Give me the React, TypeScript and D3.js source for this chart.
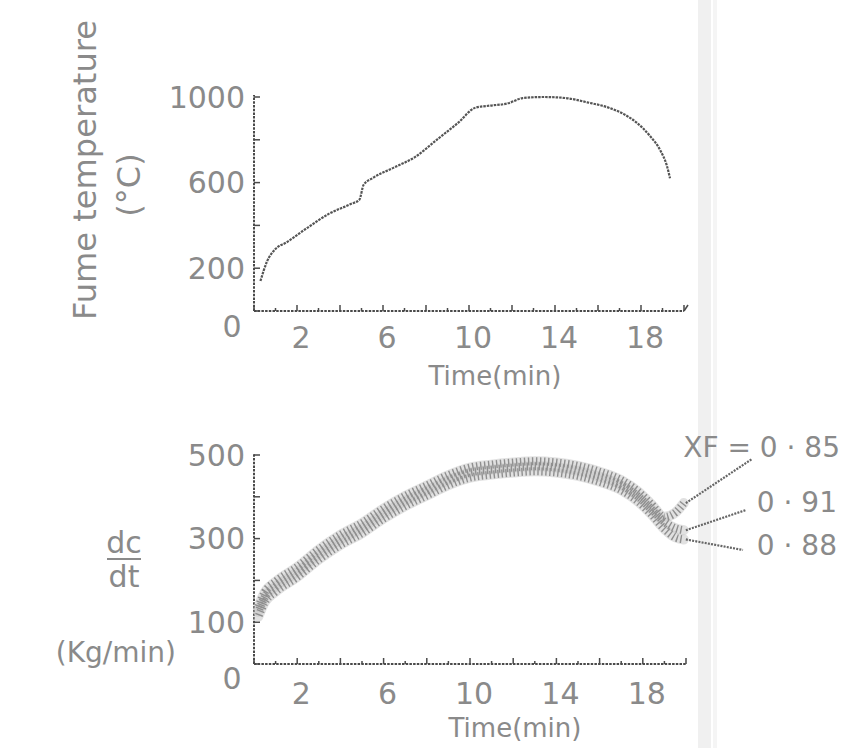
import React from "react";
import * as d3 from "d3";

// ---- data ----
const topTimes = [0.3, 0.6, 1.0, 1.5, 2.5, 3.5, 4.5, 4.9, 5.1, 5.5, 6.5, 7.5, 8.5, 9.5, 10.3, 11.0, 11.8, 12.5, 13.5, 14.5, 15.5, 16.5, 17.2, 17.8, 18.4, 18.9, 19.2, 19.35];
const fumeTemp = [140, 230, 290, 320, 390, 455, 500, 520, 590, 620, 670, 720, 800, 880, 950, 960, 970, 995, 1000, 995, 975, 950, 920, 880, 820, 750, 680, 620];

const bandTimes = [0.2, 0.5, 1, 2, 3, 4, 5, 6, 7, 8, 9, 10, 11, 12, 13, 14, 15, 16, 17, 17.8, 18.4, 19, 19.5, 19.9];
const dcXF085 = [137, 172, 197, 232, 274, 309, 337, 372, 402, 427, 452, 470, 477, 482, 485, 482, 474, 460, 440, 412, 382, 352, 362, 385];
const dcXF091 = [125, 160, 185, 220, 262, 297, 325, 360, 390, 415, 440, 458, 465, 470, 473, 470, 462, 448, 428, 400, 370, 340, 325, 320];
const dcXF088 = [113, 148, 173, 208, 250, 285, 313, 348, 378, 403, 428, 446, 453, 458, 461, 458, 450, 436, 416, 388, 358, 323, 303, 298];

const topYTickLabels = [200, 600, 1000];
const bottomYTickLabels = [100, 300, 500];
const xTickLabels = [2, 6, 10, 14, 18];
const xfLabels = ["XF = 0 · 85", "0 · 91", "0 · 88"];

const INK = "#4a4a4a";
const TEXT = "#8a8a8a";
const FONT = "'DejaVu Sans', sans-serif";

export default function App() {
  const xTop = d3.scaleLinear().domain([0, 20]).range([254, 684]);
  const yTop = d3.scaleLinear().domain([0, 1000]).range([311, 97]);
  const xBot = d3.scaleLinear().domain([0, 20]).range([254, 686]);
  const yBot = d3.scaleLinear().domain([0, 500]).range([664, 455]);

  const topLine = d3
    .line<number>()
    .x((_, i) => xTop(topTimes[i]))
    .y((d) => yTop(d))
    .curve(d3.curveMonotoneX);

  const botLine = d3
    .line<number>()
    .x((_, i) => xBot(bandTimes[i]))
    .y((d) => yBot(d))
    .curve(d3.curveMonotoneX);

  const series = [dcXF085, dcXF091, dcXF088];
  const labelAnchors = [
    { tx: 840, ty: 447, lx: 752, ly: 459 },
    { tx: 837, ty: 502, lx: 746, ly: 510 },
    { tx: 837, ty: 545, lx: 743, ly: 550 },
  ];

  const xTicks = d3.range(0, 21, 1);
  const axisStyle = { stroke: INK, strokeWidth: 2, strokeDasharray: "2.5,1.2", fill: "none" };

  return (
    <svg
      width={848}
      height={748}
      style={{ position: "absolute", left: 0, top: 0, background: "#fff" }}
      fontFamily={FONT}
    >
      <rect x={0} y={0} width={848} height={748} fill="#ffffff" />
      {/* scanner stripe */}
      <rect x={698} y={0} width={13} height={748} fill="#f0f0f0" />
      <rect x={713} y={0} width={4} height={748} fill="#f5f5f5" />

      {/* ===== TOP PANEL ===== */}
      <g>
        <line x1={xTop(0)} y1={yTop(0)} x2={xTop(0)} y2={yTop(1000) - 2} style={axisStyle} />
        <line x1={xTop(0)} y1={yTop(0)} x2={xTop(20)} y2={yTop(0)} style={axisStyle} />
        {d3.range(0, 1001, 200).map((v) => (
          <line key={v} x1={xTop(0)} x2={xTop(0) + 6} y1={yTop(v)} y2={yTop(v)} stroke={INK} strokeWidth={1.5} />
        ))}
        {xTicks.map((t) => (
          <line key={t} x1={xTop(t)} x2={xTop(t)} y1={yTop(0)} y2={yTop(0) - (t % 2 === 0 ? 6 : 3)} stroke={INK} strokeWidth={1.5} />
        ))}
        <line x1={xTop(20)} x2={xTop(20) + 4} y1={yTop(0)} y2={yTop(0) - 6} stroke={INK} strokeWidth={1.5} />
        <path d={topLine(fumeTemp) || ""} fill="none" stroke="#555" strokeWidth={2.2} strokeDasharray="2.5,1" />
        {topYTickLabels.map((v) => (
          <text key={v} x={xTop(0) - 9} y={yTop(v)} dy="0.36em" textAnchor="end" fontSize={30} fill={TEXT}>
            {v}
          </text>
        ))}
        <text x={232} y={326} dy="0.36em" textAnchor="middle" fontSize={30} fill={TEXT}>0</text>
        {xTickLabels.map((t) => (
          <text key={t} x={xTop(t) + 4} y={337} dy="0.36em" textAnchor="middle" fontSize={30} fill={TEXT}>
            {t}
          </text>
        ))}
        <text x={495} y={376} dy="0.36em" textAnchor="middle" fontSize={26} fill={TEXT}>Time(min)</text>
        <text
          transform="translate(84,170) rotate(-90)"
          dy="0.36em"
          textAnchor="middle"
          fontSize={32}
          fill={TEXT}
          textLength={300}
          lengthAdjust="spacingAndGlyphs"
        >
          Fume temperature
        </text>
        <text transform="translate(128,185) rotate(-90)" dy="0.36em" textAnchor="middle" fontSize={32} fill={TEXT}>
          (°C)
        </text>
      </g>

      {/* ===== BOTTOM PANEL ===== */}
      <g>
        <line x1={xBot(0)} y1={yBot(0)} x2={xBot(0)} y2={yBot(500) - 2} style={axisStyle} />
        <line x1={xBot(0)} y1={yBot(0)} x2={xBot(20)} y2={yBot(0)} style={axisStyle} />
        {d3.range(0, 501, 100).map((v) => (
          <line key={v} x1={xBot(0)} x2={xBot(0) + 6} y1={yBot(v)} y2={yBot(v)} stroke={INK} strokeWidth={1.5} />
        ))}
        {xTicks.map((t) => (
          <line key={t} x1={xBot(t)} x2={xBot(t)} y1={yBot(0)} y2={yBot(0) - (t % 2 === 0 ? 6 : 3)} stroke={INK} strokeWidth={1.5} />
        ))}
        {series.map((s, i) => (
          <path key={"b" + i} d={botLine(s) || ""} fill="none" stroke="#c4c4c4" strokeWidth={10} strokeOpacity={0.5} strokeLinecap="round" />
        ))}
        {series.map((s, i) => (
          <path key={"d" + i} d={botLine(s) || ""} fill="none" stroke="#8f8f8f" strokeWidth={8} strokeDasharray="1.4,2.6" strokeDashoffset={i * 1.3} />
        ))}
        {series.map((s, i) => {
          const n = s.length - 1;
          const a = labelAnchors[i];
          return (
            <g key={"l" + i}>
              <line x1={xBot(bandTimes[n]) + 2} y1={yBot(s[n])} x2={a.lx} y2={a.ly} stroke="#666" strokeWidth={2.2} strokeDasharray="2,1.2" />
              <text x={a.tx} y={a.ty} dy="0.36em" textAnchor="end" fontSize={28} fill={TEXT}>
                {xfLabels[i]}
              </text>
            </g>
          );
        })}
        {bottomYTickLabels.map((v) => (
          <text key={v} x={xBot(0) - 9} y={yBot(v)} dy="0.36em" textAnchor="end" fontSize={30} fill={TEXT}>
            {v}
          </text>
        ))}
        <text x={232} y={678} dy="0.36em" textAnchor="middle" fontSize={30} fill={TEXT}>0</text>
        {xTickLabels.map((t) => (
          <text key={t} x={xBot(t) + 4} y={693} dy="0.36em" textAnchor="middle" fontSize={30} fill={TEXT}>
            {t}
          </text>
        ))}
        <text x={515} y={728} dy="0.36em" textAnchor="middle" fontSize={26} fill={TEXT}>Time(min)</text>
        {/* dc/dt label */}
        <text x={124} y={542} dy="0.36em" textAnchor="middle" fontSize={30} fill={TEXT}>dc</text>
        <line x1={107} x2={141} y1={559} y2={559} stroke={TEXT} strokeWidth={2} />
        <text x={124} y={576} dy="0.36em" textAnchor="middle" fontSize={30} fill={TEXT}>dt</text>
        <text x={176} y={652} dy="0.36em" textAnchor="end" fontSize={28} fill={TEXT}>(Kg/min)</text>
      </g>
    </svg>
  );
}
